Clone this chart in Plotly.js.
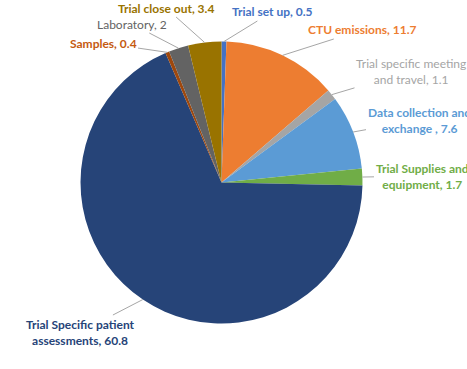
<!DOCTYPE html>
<html>
<head>
<meta charset="utf-8">
<script src="https://cdn.plot.ly/plotly-3.0.1.min.js"></script>
<style>html,body{margin:0;padding:0;background:#fff;}#chart{width:467px;height:369px;}</style>
</head>
<body>
<div id="chart"></div>
<script>
// ---- data ----
const categories = ["Trial set up", "CTU emissions", "Trial specific meeting and travel",
  "Data collection and exchange", "Trial Supplies and equipment",
  "Trial Specific patient assessments", "Samples", "Laboratory", "Trial close out"];
const values = [0.5, 11.7, 1.1, 7.6, 1.7, 60.8, 0.4, 2, 3.4];
const labelTexts = ["Trial set up", "CTU emissions", "Trial specific meeting<br>and travel",
  "Data collection and<br>exchange ", "Trial Supplies and<br>equipment",
  "Trial Specific patient<br>assessments", "Samples", "Laboratory", "Trial close out"];

// ---- styles ----
const W = 467, H = 369;
const sliceColors = ["#4472C4", "#ED7D31", "#A5A5A5", "#5B9BD5", "#70AD47",
  "#264478", "#9E480E", "#636363", "#997300"];
const textColors = ["#4472C4", "#ED7D31", "#A5A5A5", "#5B9BD5", "#70AD47",
  "#264478", "#C55A11", "#636363", "#997300"];
const bold = [true, true, false, true, true, true, true, false, true];
// label centre positions in pixels
const labelPos = [[272, 12], [362, 30], [411, 71], [419, 120], [422, 176],
  [80, 332], [103, 43], [132, 24], [166, 8]];

const cx = 221.5, cy = 182.5, R = 141;
const domX = [(cx - R) / W, (cx + R) / W];
const domY = [(H - cy - R) / H, (H - cy + R) / H];

const total = values.reduce((a, b) => a + b, 0);
let cum = 0;
const annotations = values.map((v, i) => {
  const mid = (cum + v / 2) / total * 2 * Math.PI;
  cum += v;
  const px = cx + R * Math.sin(mid), py = cy - R * Math.cos(mid);
  const t = labelTexts[i] + ", " + v;
  return {
    x: px / W, y: 1 - py / H, xref: "paper", yref: "paper",
    ax: labelPos[i][0] - px, ay: labelPos[i][1] - py,
    text: bold[i] ? "<b>" + t + "</b>" : t,
    showarrow: true, arrowhead: 0, arrowwidth: 1, arrowcolor: "#A6A6A6",
    standoff: 0, startstandoff: 0,
    font: {family: "Lato, 'Liberation Sans', sans-serif", size: 12, color: textColors[i]},
    align: "center", xanchor: "center", yanchor: "middle"
  };
});

const trace = {
  type: "pie",
  labels: categories,
  values: values,
  sort: false,
  direction: "clockwise",
  rotation: 0,
  textinfo: "none",
  hoverinfo: "label+value",
  marker: {colors: sliceColors, line: {width: 0}},
  domain: {x: domX, y: domY}
};

Plotly.newPlot("chart", [trace], {
  width: W, height: H,
  margin: {l: 0, r: 0, t: 0, b: 0},
  showlegend: false,
  paper_bgcolor: "#ffffff",
  annotations: annotations
}, {displayModeBar: false, staticPlot: true});
</script>
</body>
</html>
